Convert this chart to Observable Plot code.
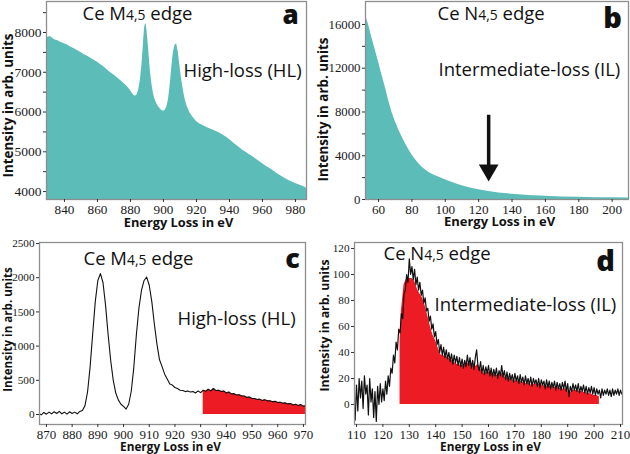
<!DOCTYPE html>
<html><head><meta charset="utf-8">
<script src="https://cdn.jsdelivr.net/npm/d3@7"></script>
<script src="https://cdn.jsdelivr.net/npm/@observablehq/plot@0.6"></script>
<style>
body{margin:0;background:#fff;}
#root{position:relative;width:630px;height:454px;overflow:hidden;background:#fff;}
.panel{position:absolute;}
.panel svg{overflow:visible;display:block;}
</style></head><body><div id="root"></div>
<script>
// ---- Panel a: Ce M4,5 edge, high-loss raw spectrum ----
const aEnergy = [829,830,831,832,834,836,838,840,842,844,846,848,850,852,854,856,858,860,862,864,866,868,870,872,874,876,878,880,881,882,883,884,885,886,887,888,888.5,889,889.5,890,891,892,893,894,895,896,897,898,899,900,901,902,903,904,905,906,907,908,909,910,911,912,913,914,915,916,918,920,922,924,926,928,930,932,934,936,938,940,942,944,946,948,950,952,954,956,958,960,962,964,966,968,970,972,974,976,978,980,982,984,986,987];
const aIntensity = [7860,7880,7900,7880,
  7820,7790,7750,7720,7680,7630,7590,7540,7500,7440,
  7400,7350,7300,7250,7190,7130,7060,6990,6930,6860,
  6790,6720,6640,6540,
  6470,6420,6400,6430,6560,6800,7200,7800,
  8100,8200,8220,
  8050,7600,7050,6700,6450,6300,6200,6130,6080,6040,
  6020,6040,6120,6300,6650,7100,7500,7680,7720,7500,
  7150,6820,6560,6340,6180,6080,5980,
  5860,5760,5700,5660,5620,5580,5550,5510,5470,5420,
  5370,5310,5240,5170,5110,5040,4990,4930,4880,4820,
  4760,4700,4640,4590,4540,4480,4420,4370,4320,4280,
  4240,4200,4170,4140,4100,
  4080];
const aXTicks = [840,860,880,900,920,940,960,980];
const aYTicks = [4000,4500,5000,5500,6000,6500,7000,7500,8000,8500];

// ---- Panel b: Ce N4,5 edge, intermediate-loss raw spectrum ----
const bEnergy = [52,54,56,58,60,62,64,66,68,70,72,74,76,78,80,82,84,86,88,90,93,96,100,105,110,115,120,126,132,140,150,160,170,180,190,200,210];
const bIntensity = [16900,16000,14800,13700,12600,11400,10300,9100,8000,7150,
  6400,5750,5150,4600,4100,3680,3300,2980,2720,2500,
  2250,2050,1800,1500,1250,1050,880,720,600,480,
  370,290,240,200,170,150,130];
const bArrow = [{x: 126, from: 7700, to: 1680}];
const bXTicks = [60,80,100,120,140,160,180,200];
const bYTicks = [0,2000,4000,6000,8000,10000,12000,14000,16000];

// ---- Panel c: background-subtracted M4,5 edge (1 eV channels from 867 eV) ----
const cStart = 867, cStep = 1;
const cIntensity = [20,-5,30,5,35,10,40,15,45,10,
  35,5,40,15,35,10,45,60,130,330,
  700,1180,1650,1960,2060,1930,1600,1170,790,500,
  310,210,150,120,80,150,340,690,1170,1560,
  1820,1960,2010,1890,1650,1320,1030,800,700,590,
  520,445,430,395,380,355,350,335,345,330,
  335,315,345,320,355,340,370,345,380,350,
  355,335,345,315,330,300,305,285,290,270,
  270,250,255,235,235,220,225,205,215,200,
  200,185,195,175,180,165,170,155,160,140,
  150,130,145,120,130];
const cRedFrom = 931;
const cXTicks = [870,880,890,900,910,920,930,940,950,960,970];
const cYTicks = [0,500,1000,1500,2000,2500];

// ---- Panel d: background-subtracted N4,5 edge (0.5 eV channels from 109 eV) ----
const dStart = 109, dStep = 0.5;
const dIntensity = [0,-12,15,-5,20,5,18,-3,22,8,
  15,-8,20,2,12,-10,10,-13,14,0,
  16,2,12,3,18,8,22,14,28,24,
  38,32,48,42,58,55,70,66,85,88,
  100,94,112,100,106,96,104,92,98,88,
  94,84,88,78,82,72,74,64,68,58,
  62,52,56,46,50,40,46,38,44,36,
  42,35,40,33,39,31,38,32,37,30,
  36,29,35,28,34,29,38,30,36,28,
  34,27,36,42,30,26,33,24,30,23,
  29,24,30,22,28,21,27,22,28,20,
  26,22,30,21,26,19,25,18,24,19,
  23,17,24,18,22,16,23,17,21,15,
  22,16,20,15,21,14,20,16,19,14,
  20,13,19,15,18,12,19,13,18,12,
  17,13,18,11,17,12,16,11,17,12,
  18,10,16,6,14,10,16,11,15,10,
  16,9,14,10,15,9,14,8,13,9,
  14,8,13,7,12,8,11,5,12,7,
  11,8,12,7,11,6,12,7,11,8,
  12,7,11,8,10];
const dRedEnergy = [126.5,127,128,129,130,131,132,133,134,135,136,137,138,139,140,141,142,144,146,148,150,152,153,154,155,156,158,160,162,164,165,166,168,170,172,174,175,176,178,180,182,184,185,186,188,190,190.5,191,192,193,195,197,199,200,201,202];
const dRedIntensity = [48,72,92,97,97,97,95,89,85,82,
  76,68,60,53,49,43,38,37,34,31,
  30,31,33,30,29,31,24,25,23,22,
  24,21,20,18,18,16,17,15,16,15,
  14,14,13,13,12,12,7,9,11,11,
  10,9,8,7,7,6];
const dXTicks = [110,120,130,140,150,160,170,180,190,200,210];
const dYTicks = [0,20,40,60,80,100,120];

// ---- styling ----
const TEAL = "#5bbcb8", RED = "#ed1c24", FRAME = "#8e8e8e", INK = "#111";
const SERIF = "'Liberation Serif', serif";
const SANS = "'Open Sans', sans-serif";

const pairs = (xs, ys) => xs.map((x, i) => ({x, y: ys[i]}));
const grid = (start, step, ys) => ys.map((y, i) => ({x: start + i * step, y}));

function axes(xTicks, yTicks, yFmt, xFont, yFont) {
  return [
    Plot.axisX({ticks: xTicks, tickSize: 3, tickPadding: 2, tickFormat: d => String(d), label: null,
      fontFamily: SERIF, fontSize: xFont, stroke: "#333", fill: "#1a1a1a"}),
    Plot.axisY({ticks: yTicks, tickSize: 3, tickPadding: 2, tickFormat: yFmt, label: null,
      fontFamily: SERIF, fontSize: yFont, stroke: "#333", fill: "#1a1a1a"})
  ];
}
const yLab = (dx, dy, size) => Plot.text(["Intensity in arb. units"], {text: d => d, frameAnchor: "left", textAnchor: "middle", lineAnchor: "middle", dx, dy, rotate: -90,
  fontFamily: SANS, fontWeight: "bold", fontSize: size, fill: INK});
const xLab = (dx, dy, size) => Plot.text(["Energy Loss in eV"], {text: d => d, frameAnchor: "bottom", textAnchor: "middle", lineAnchor: "bottom", dx, dy,
  fontFamily: SANS, fontWeight: "bold", fontSize: size, fill: INK});
const note = (t, dx, dy) => Plot.text([t], {text: d => d, frameAnchor: "top-left", textAnchor: "start", lineAnchor: "bottom", dx, dy,
  fontFamily: SANS, fontSize: 18.5, fill: INK});
const letter = (t, dx, dy, size) => Plot.text([t], {text: d => d, frameAnchor: "top-left", textAnchor: "middle", lineAnchor: "bottom", dx, dy,
  fontFamily: SANS, fontWeight: 800, fontSize: size, fill: INK});

const baseStyle = {fontFamily: SERIF, fontSize: "13px", color: "#222", background: "transparent", overflow: "visible"};

const plotA = Plot.plot({
  width: 315, height: 227, marginLeft: 46, marginRight: 9, marginTop: 1, marginBottom: 28,
  style: baseStyle,
  x: {domain: [829.1, 986.7]}, y: {domain: [3800, 8780]},
  marks: [
    Plot.areaY(pairs(aEnergy, aIntensity), {x: "x", y: "y", fill: TEAL, clip: true}),
    Plot.frame({stroke: FRAME, strokeWidth: 1.3}),
    ...axes(aXTicks, aYTicks, d => d % 1000 ? "" : String(d), 13.2, 13.5),
    yLab(-37.5, 5, 13.4), xLab(2, 27, 12.8),
    note("Ce M4,5 edge", 36, 18), note("High-loss (HL)", 137, 75),
    letter("a", 244, 22, 26)
  ]
});

const plotB = Plot.plot({
  width: 315, height: 227, marginLeft: 50, marginRight: 2, marginTop: 1, marginBottom: 28,
  style: baseStyle,
  x: {domain: [52.2, 209.8]}, y: {domain: [0, 18100]},
  marks: [
    Plot.areaY(pairs(bEnergy, bIntensity), {x: "x", y: "y", fill: TEAL, clip: true}),
    Plot.frame({stroke: FRAME, strokeWidth: 1.3}),
    ...axes(bXTicks, bYTicks, d => d % 4000 ? "" : String(d), 13.2, 12.8),
    Plot.ruleX(bArrow, {x: "x", y1: "from", y2: "to", stroke: INK, strokeWidth: 3.5, insetBottom: 12}),
    Plot.dot(bArrow, {x: "x", y: "to", symbol: "triangle", rotate: 180, r: 7.3, fill: INK, stroke: null, dy: -11}),
    yLab(-42, 9, 13.4), xLab(2.5, 26, 13),
    note("Ce N4,5 edge", 72, 18), note("Intermediate-loss (IL)", 73, 74),
    letter("b", 247, 26, 29)
  ]
});

const cRows = grid(cStart, cStep, cIntensity);
const plotC = Plot.plot({
  width: 315, height: 227, marginLeft: 39, marginRight: 10, marginTop: 15, marginBottom: 30,
  style: baseStyle,
  x: {domain: [867.3, 970.8]}, y: {domain: [-146, 2515]},
  marks: [
    Plot.areaY(cRows.filter(d => d.x >= cRedFrom), {x: "x", y: "y", fill: RED}),
    Plot.lineY(cRows, {x: "x", y: "y", stroke: INK, strokeWidth: 1.1, clip: true}),
    Plot.frame({stroke: FRAME, strokeWidth: 1.3}),
    ...axes(cXTicks, cYTicks, d => String(d), 13, 11.2),
    yLab(-31, -4, 11.6), xLab(-2, 26, 11.8),
    note("Ce M4,5 edge", 44, 22), note("High-loss (HL)", 138, 82),
    letter("c", 253, 25, 27)
  ]
});

const plotD = Plot.plot({
  width: 315, height: 227, marginLeft: 39, marginRight: 8, marginTop: 15, marginBottom: 30,
  style: baseStyle,
  x: {domain: [109.24, 210.76]}, y: {domain: [-15.4, 124.6]},
  marks: [
    Plot.areaY(pairs(dRedEnergy, dRedIntensity), {x: "x", y: "y", fill: RED}),
    Plot.lineY(grid(dStart, dStep, dIntensity), {x: "x", y: "y", stroke: INK, strokeWidth: 1.2, clip: true}),
    Plot.frame({stroke: FRAME, strokeWidth: 1.3}),
    ...axes(dXTicks, dYTicks, d => String(d), 13, 11.2),
    yLab(-29, -8, 12.3), xLab(2, 26, 11.8),
    note("Ce N4,5 edge", 29, 17), note("Intermediate-loss (IL)", 80, 68),
    letter("d", 251, 28, 29)
  ]
});

function postProcess(svg) {
  d3.select(svg).selectAll("text").each(function () {
    const t = this.textContent;
    if (/^-?\d+$/.test(t.trim())) {
      this.setAttribute("font-family", SERIF);
      this.style.setProperty("font-family", SERIF, "important");
      return;
    }
    const i = t.indexOf("4,5");
    if (i < 0 || this.querySelector("tspan")) return;
    const s = d3.select(this);
    s.text(null);
    s.append("tspan").text(t.slice(0, i));
    s.append("tspan").attr("font-size", "0.75em").text("4,5");
    s.append("tspan").text(t.slice(i + 3));
  });
}

const root = document.getElementById("root");
[[plotA, 0, 0], [plotB, 315, 0], [plotC, 0, 227], [plotD, 315, 227]].forEach(([svg, left, top]) => {
  postProcess(svg);
  const div = document.createElement("div");
  div.className = "panel";
  div.style.left = left + "px";
  div.style.top = top + "px";
  div.appendChild(svg);
  root.appendChild(div);
});
</script>
</body></html>
